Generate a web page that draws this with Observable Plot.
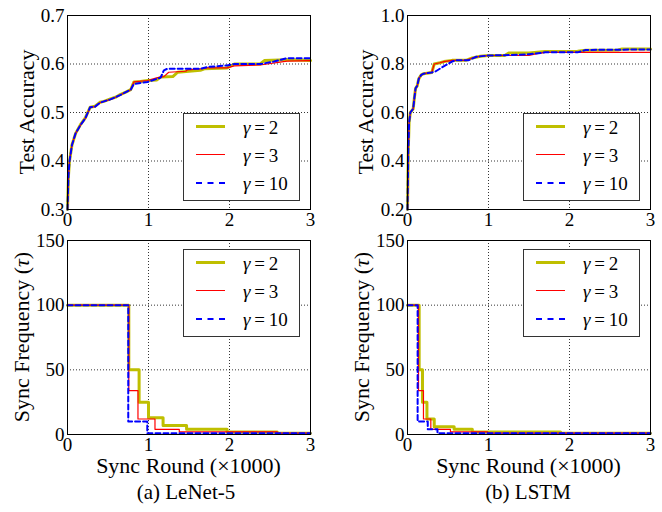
<!DOCTYPE html>
<html><head><meta charset="utf-8">
<script src="https://cdn.jsdelivr.net/npm/d3@7"></script>
<script src="https://cdn.jsdelivr.net/npm/@observablehq/plot@0.6"></script>
<style>
body{margin:0;background:#fff;}
#wrap{position:relative;width:662px;height:512px;font-family:"Liberation Serif",serif;color:#000;overflow:hidden;}
#wrap svg, #wrap svg text, #wrap svg g{font-family:"Liberation Serif",serif !important;font-variant:normal !important;}
.panel{position:absolute;}
.lbl{position:absolute;font-size:21px;white-space:nowrap;line-height:1;transform:translate(-50%,-50%);font-family:"Liberation Serif",serif;}
.rot{transform:translate(-50%,-50%) rotate(-90deg);}
.leg{position:absolute;width:117px;height:88px;border:1.5px solid #333;background:#fff;box-sizing:border-box;}
.samp{position:absolute;left:12px;width:29px;height:0;}
.ltxt{position:absolute;left:59px;font-size:19px;line-height:1;transform:translateY(-50%);white-space:nowrap;font-family:"Liberation Serif",serif;}
</style></head><body><div id="wrap"></div>
<script>
// ---------- data ----------
const xTicks = [0, 1, 2, 3];
const accTicksLeNet = [0.3, 0.4, 0.5, 0.6, 0.7];
const accTicksLSTM = [0.2, 0.4, 0.6, 0.8, 1.0];
const freqTicks = [0, 50, 100, 150];
const seriesNames = ["2", "3", "10"];
const seriesColors = ["#bfbf00", "#ff0000", "#0000ff"];
const seriesWidths = [3, 1.2, 2];
const seriesDash = [null, null, "5,3"];

// LeNet-5 test accuracy (x in thousands of sync rounds)
const lenetAccX_g2 = [0, 0.012, 0.025, 0.055, 0.1, 0.16, 0.22, 0.28, 0.34, 0.4, 0.45, 0.53, 0.6, 0.65, 0.72, 0.78, 0.82, 0.9, 0.99, 1.1, 1.15, 1.3, 1.36, 1.64, 1.69, 1.97, 2.06, 2.38, 2.43, 2.71, 3.0];
const lenetAccY_g2 = [0.3, 0.37, 0.40, 0.433, 0.457, 0.475, 0.489, 0.511, 0.513, 0.521, 0.523, 0.528, 0.532, 0.537, 0.542, 0.547, 0.563, 0.564, 0.566, 0.567, 0.573, 0.574, 0.583, 0.587, 0.59, 0.592, 0.6, 0.6, 0.607, 0.609, 0.607];
const lenetAccX_g3 = [0, 0.012, 0.025, 0.055, 0.1, 0.16, 0.22, 0.28, 0.34, 0.4, 0.45, 0.53, 0.6, 0.65, 0.72, 0.78, 0.82, 0.99, 1.11, 1.19, 1.25, 1.46, 1.48, 1.64, 1.73, 1.97, 2.06, 2.38, 2.71, 3.0];
const lenetAccY_g3 = [0.3, 0.37, 0.40, 0.433, 0.457, 0.474, 0.488, 0.511, 0.512, 0.52, 0.523, 0.527, 0.532, 0.536, 0.542, 0.547, 0.563, 0.566, 0.572, 0.574, 0.583, 0.585, 0.588, 0.59, 0.592, 0.592, 0.596, 0.598, 0.606, 0.607];
const lenetAccX_g10 = [0, 0.012, 0.025, 0.055, 0.1, 0.16, 0.22, 0.28, 0.34, 0.4, 0.45, 0.53, 0.6, 0.65, 0.72, 0.78, 0.82, 0.99, 1.15, 1.19, 1.23, 1.64, 1.73, 1.97, 2.06, 2.38, 2.55, 2.71, 3.0];
const lenetAccY_g10 = [0.3, 0.37, 0.40, 0.433, 0.457, 0.474, 0.488, 0.511, 0.512, 0.52, 0.523, 0.527, 0.532, 0.536, 0.542, 0.547, 0.559, 0.563, 0.572, 0.587, 0.59, 0.59, 0.594, 0.597, 0.6, 0.6, 0.605, 0.612, 0.612];

// LSTM test accuracy
const lstmAccX_g2 = [0, 0.01, 0.02, 0.035, 0.07, 0.085, 0.1, 0.12, 0.14, 0.17, 0.2, 0.3, 0.33, 0.4, 0.45, 0.55, 0.72, 0.8, 0.9, 1.0, 1.2, 1.25, 1.5, 1.7, 2.1, 2.2, 2.6, 2.65, 3.0];
const lstmAccY_g2 = [0.2, 0.45, 0.56, 0.6, 0.615, 0.66, 0.7, 0.71, 0.74, 0.755, 0.76, 0.765, 0.8, 0.805, 0.81, 0.815, 0.815, 0.825, 0.832, 0.835, 0.835, 0.845, 0.845, 0.852, 0.853, 0.857, 0.858, 0.862, 0.862];
const lstmAccX_g3 = [0, 0.01, 0.02, 0.035, 0.07, 0.085, 0.1, 0.12, 0.14, 0.17, 0.2, 0.3, 0.33, 0.4, 0.45, 0.55, 0.72, 0.8, 0.9, 1.0, 1.2, 1.5, 1.6, 1.7, 3.0];
const lstmAccY_g3 = [0.2, 0.45, 0.56, 0.6, 0.615, 0.66, 0.7, 0.71, 0.74, 0.755, 0.76, 0.765, 0.8, 0.805, 0.81, 0.815, 0.815, 0.825, 0.832, 0.835, 0.835, 0.835, 0.843, 0.848, 0.848];
const lstmAccX_g10 = [0, 0.01, 0.02, 0.035, 0.07, 0.085, 0.1, 0.12, 0.14, 0.17, 0.2, 0.3, 0.35, 0.42, 0.5, 0.55, 0.6, 0.75, 0.85, 1.0, 1.25, 1.5, 1.7, 2.1, 2.2, 3.0];
const lstmAccY_g10 = [0.2, 0.45, 0.56, 0.6, 0.615, 0.66, 0.7, 0.71, 0.74, 0.755, 0.76, 0.765, 0.77, 0.785, 0.8, 0.81, 0.815, 0.815, 0.83, 0.835, 0.837, 0.84, 0.848, 0.848, 0.858, 0.86];

// LeNet-5 sync frequency (step)
const lenetFreqX_g2 = [0, 0.757, 0.884, 1.0, 1.18, 1.47, 1.97, 2.59, 3.0];
const lenetFreqY_g2 = [100, 50, 25, 13, 7, 4, 2, 1, 1];
const lenetFreqX_g3 = [0, 0.757, 0.87, 1.08, 1.38, 2.59, 3.0];
const lenetFreqY_g3 = [100, 34, 12, 4, 2, 1, 1];
const lenetFreqX_g10 = [0, 0.75, 0.985, 3.0];
const lenetFreqY_g10 = [100, 10, 1, 1];

// LSTM sync frequency (step)
const lstmFreqX_g2 = [0, 0.144, 0.185, 0.24, 0.33, 0.576, 0.8, 1.89, 3.0];
const lstmFreqY_g2 = [100, 50, 25, 12, 6, 4, 2, 1, 1];
const lstmFreqX_g3 = [0, 0.136, 0.197, 0.288, 0.53, 0.99, 3.0];
const lstmFreqY_g3 = [100, 34, 12, 4, 2, 1, 1];
const lstmFreqX_g10 = [0, 0.125, 0.25, 0.37, 3.0];
const lstmFreqY_g10 = [100, 10, 4, 1, 1];

// ---------- drawing ----------
const zip = (xs, ys) => xs.map((x, i) => ({x, y: ys[i]}));
const wrap = document.getElementById("wrap");
const SERIF = "Liberation Serif";

function panel(xsList, ysList, yDomain, yTicks, yFmt, curve, mLeft, mRight) {
  const gridStyle = {stroke: "black", strokeOpacity: 1, strokeWidth: 0.8, strokeDasharray: "1,2"};
  return Plot.plot({
    width: 331, height: 232,
    marginLeft: mLeft, marginRight: mRight, marginTop: 15, marginBottom: 23,
    style: {background: "transparent", fontFamily: SERIF, fontSize: "19px", color: "black", overflow: "visible"},
    x: {domain: [0, 3], label: null},
    y: {domain: yDomain, label: null},
    marks: [
      Plot.gridX({ticks: xTicks.slice(1, -1), ...gridStyle}),
      Plot.gridY({ticks: yTicks.slice(1, -1), ...gridStyle}),
      Plot.axisX({ticks: xTicks, tickSize: 0, tickPadding: 3, tickFormat: d3.format("d"), label: null, fontSize: 19, fontFamily: SERIF, fontVariant: "normal"}),
      Plot.axisY({ticks: yTicks, tickSize: 0, tickPadding: 3, tickFormat: yFmt, label: null, fontSize: 19, fontFamily: SERIF, fontVariant: "normal"}),
      ...xsList.map((xs, i) => Plot.line(zip(xs, ysList[i]), {
        x: "x", y: "y", stroke: seriesColors[i], strokeWidth: seriesWidths[i],
        strokeDasharray: seriesDash[i], curve
      })),
      Plot.frame({stroke: "black", strokeWidth: 1})
    ]
  });
}

function place(el, left, top) {
  const d = document.createElement("div");
  d.className = "panel";
  d.style.left = left + "px"; d.style.top = top + "px";
  d.appendChild(el);
  wrap.appendChild(d);
}

const f1 = d3.format(".1f"), fd = d3.format("d");
place(panel([lenetAccX_g2, lenetAccX_g3, lenetAccX_g10], [lenetAccY_g2, lenetAccY_g3, lenetAccY_g10], [0.3, 0.7], accTicksLeNet, f1, "linear", 67, 21), 0, 0);
place(panel([lstmAccX_g2, lstmAccX_g3, lstmAccX_g10], [lstmAccY_g2, lstmAccY_g3, lstmAccY_g10], [0.2, 1.0], accTicksLSTM, f1, "linear", 76, 12), 331, 0);
place(panel([lenetFreqX_g2, lenetFreqX_g3, lenetFreqX_g10], [lenetFreqY_g2, lenetFreqY_g3, lenetFreqY_g10], [0, 150], freqTicks, fd, "step-after", 67, 21), 0, 225);
place(panel([lstmFreqX_g2, lstmFreqX_g3, lstmFreqX_g10], [lstmFreqY_g2, lstmFreqY_g3, lstmFreqY_g10], [0, 150], freqTicks, fd, "step-after", 76, 12), 331, 225);

function label(html, x, y, rot, size) {
  const d = document.createElement("div");
  d.className = "lbl" + (rot ? " rot" : "");
  d.style.left = x + "px"; d.style.top = y + "px";
  if (size) d.style.fontSize = size + "px";
  d.innerHTML = html;
  wrap.appendChild(d);
}
label("Test Accuracy", 27, 112, true, 22);
label("Test Accuracy", 366, 112, true, 22);
label("Sync Frequency (<i>τ</i>)", 22, 337, true, 22);
label("Sync Frequency (<i>τ</i>)", 362, 337, true, 22);
label("Sync Round (×1000)", 188.5, 466, false, 22);
label("Sync Round (×1000)", 528.5, 466, false, 22);
label("(a) LeNet-5", 186, 492, false, 21);
label("(b) LSTM", 528, 492, false, 21);

function legend(left, top) {
  const box = document.createElement("div");
  box.className = "leg";
  box.style.left = left + "px"; box.style.top = top + "px";
  seriesNames.forEach((n, i) => {
    const cy = 14 + 28 * i;
    const s = document.createElement("div");
    s.className = "samp";
    s.style.top = (cy - seriesWidths[i] / 2 - 1.5) + "px";
    s.style.borderTop = seriesWidths[i] + "px " + (seriesDash[i] ? "dashed " : "solid ") + seriesColors[i];
    box.appendChild(s);
    const t = document.createElement("div");
    t.className = "ltxt";
    t.style.top = (cy - 1.5) + "px";
    t.innerHTML = "<i>γ</i>&#8201;=&#8201;" + n;
    box.appendChild(t);
  });
  wrap.appendChild(box);
}
legend(183, 113);
legend(523, 113);
legend(183, 249);
legend(523, 249);
</script></body></html>
